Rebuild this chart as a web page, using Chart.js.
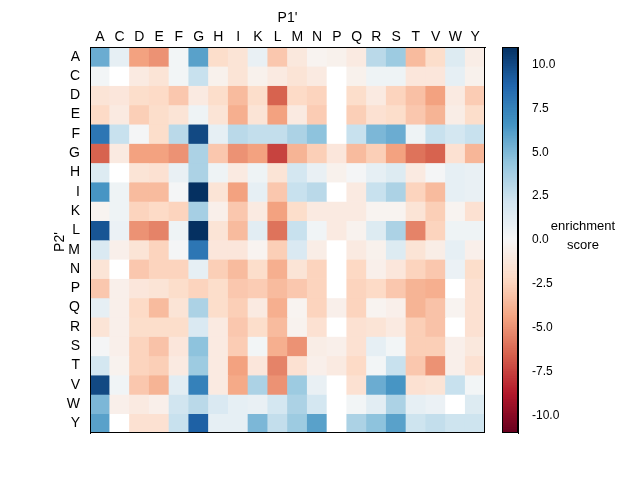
<!DOCTYPE html>
<html><head><meta charset="utf-8">
<script src="https://cdn.jsdelivr.net/npm/chart.js@4"></script>
<style>body{margin:0;background:#fff}#w{position:relative;width:640px;height:480px}canvas{position:absolute;top:0}</style>
</head><body><div id="w"><canvas id="c" width="640" height="480" style="left:0;width:640px;height:480px"></canvas><canvas id="cb" width="150" height="480" style="left:490px;width:150px;height:480px"></canvas></div>
<script>
const colLabels=["A","C","D","E","F","G","H","I","K","L","M","N","P","Q","R","S","T","V","W","Y"];
const rowLabels=["A","C","D","E","F","G","H","I","K","L","M","N","P","Q","R","S","T","V","W","Y"];
const cbTicks=[-10,-7.5,-5,-2.5,0,2.5,5,7.5,10];
const vmin=-11, vmax=11;
const rowA=[5.5,1,-4.5,-5,0.3,6,-2,-1.5,0.8,-3,-1.2,-0.3,-0.5,-1,3,4,-3.5,-2,1.5,-0.8];
const rowC=[0.3,0,-1,-1.5,0.3,2.5,-0.5,-1.5,-0.5,-1,-1.5,-1,0,-0.5,0.5,0.5,-1.3,-1.3,1,-0.5];
const rowD=[-1.5,-1.3,-2,-2.2,-3,-1,-2,-3.5,-2,-6.5,-2.2,-2.5,0,-2,-1,-2.5,-3.3,-4.5,-1,-2.8];
const rowE=[-2.2,-1,-2.7,-2,-1.5,0.5,-1.5,-4,-1.5,-4.5,-1,-2.8,0,-2.7,-1.7,-2,-3,-3.8,-0.8,-2];
const rowF=[8,2.5,0.2,-2,3,10,1,3,2.7,2.7,3.5,4.5,0,2.5,5,5.5,0.5,2.5,2,2.5];
const rowG=[-6.5,-1,-4.5,-4.5,-5,3.5,-3,-5,-4.5,-7.5,-3.8,-2.7,-1.3,-3.5,-2.7,-4.5,-6,-6.5,-1.7,-3.7];
const rowH=[1.5,0,-1.5,-1.7,0.8,3.5,0.5,-1,0.5,-1.5,2,0.8,-0.5,0.2,1,1.5,-1,0.2,1,0.8];
const rowI=[6.5,0.5,-3.5,-3.5,0.2,11,-1.5,-4.5,1,-3,2.5,3,0,-1,2.5,3.5,-2.5,-3.5,1,0.8];
const rowK=[-0.3,0.5,-2.5,-2.2,-2.5,3.7,-0.6,-3,-1,-4.5,-2,-1,-1,-1,-0.3,-0.3,-1.5,-2.7,-0.3,-1.7];
const rowL=[9.5,0.7,-5,-5.5,0.5,11,-1.5,-3.5,1.2,-6,2.5,0.4,-1,-0.4,1.5,3.5,-5.5,-2.5,0.5,0.5];
const rowM=[1.7,-0.6,-1.5,-2.5,0.2,8,-1.3,-1.3,-0.3,-2.7,1.7,-0.8,0,-1,-0.5,1.5,-1.5,-0.8,1,-0.6];
const rowN=[-1.5,0,-3,-2.5,-2.5,1,-2.7,-3.5,-2,-4,-1.5,-2.5,0,-2.3,-0.6,-1.3,-2.5,-3,0.7,-2];
const rowP=[-3,-0.6,-1.3,-1.5,-2,-2.5,-2,-3,-2.8,-3.5,-3,-2.5,0,-2.5,-2.2,-3,-3.8,-4,0,-1.7];
const rowQ=[1,-0.6,-2.2,-3.5,-1.5,3.5,-2,-2.7,-1,-4,-0.3,-2.5,-0.6,-2.5,-0.3,-0.6,-3.8,-3.2,-0.3,-1.7];
const rowR=[-1.5,-0.6,-2,-2,-2,1.7,-1,-3,-2,-3.5,-0.4,-1.7,0,-1.7,-1.5,-1,-2.7,-3.2,0,-1.7];
const rowS=[0.2,-0.6,-2.5,-3.2,-1.3,4.5,-1,-2.8,0.3,-4,-5,-0.8,-0.6,-1.7,1,0.3,-2.7,-2.7,-0.6,-1.2];
const rowT=[2,-0.4,-2.5,-2.7,-1,4,-1,-4.5,-1.3,-5.5,-1.7,-0.6,-1,-2.2,0.3,2.5,-3,-5,-0.6,-1.7];
const rowV=[10,0.4,-3,-3.8,1.2,7.5,-1,-4.2,3.5,-5,4,0.8,0,-1.7,5.5,6.5,-1.7,-1.5,2.5,0.3];
const rowW=[5,-0.6,-1,-0.6,2.2,3,1.7,1,0.8,2,3.5,2,0,0.3,1.2,3.5,1,0.7,0,1.5];
const rowY=[6,0,-1.7,-1.7,2.5,9,1,1,5,2.7,4,6,0,3.5,4.5,6,2.3,2.7,2.3,2.3];
const matrix=[rowA,rowC,rowD,rowE,rowF,rowG,rowH,rowI,rowK,rowL,rowM,rowN,rowP,rowQ,rowR,rowS,rowT,rowV,rowW,rowY];

const stops=["#67001f","#b2182b","#d6604d","#f4a582","#fddbc7","#f7f7f7","#d1e5f0","#92c5de","#4393c3","#2166ac","#053061"].map(h=>[1,3,5].map(i=>parseInt(h.substr(i,2),16)));
function cmap(v){if(v===0)return '#ffffff';let t=(v-vmin)/(vmax-vmin);t=Math.max(0,Math.min(1,t))*10;const i=Math.min(9,Math.floor(t)),f=t-i;const a=stops[i],b=stops[i+1];return `rgb(${a.map((x,k)=>Math.round(x+(b[k]-x)*f)).join(',')})`;}
Chart.defaults.font.family="'Liberation Sans', Arial, sans-serif";
Chart.defaults.color="#000";
const frame={id:'frame',afterDraw(ch){const a=ch.chartArea,c=ch.ctx;c.save();c.strokeStyle='#000';c.lineWidth=1;c.strokeRect(Math.round(a.left)+0.5,Math.round(a.top)+0.5,Math.round(a.right-a.left)-1,Math.round(a.bottom-a.top)-1);c.restore();}};
const titles={id:'titles',afterDraw(ch){const c=ch.ctx;c.save();c.font="14px 'Liberation Sans', Arial";c.fillStyle='#000';c.textAlign='center';c.textBaseline='middle';c.fillText("P1'",(ch.chartArea.left+ch.chartArea.right)/2,18);c.translate(60,242);c.rotate(-Math.PI/2);c.fillText("P2'",0,0);c.restore();}};
const datasets=matrix.map((row,r)=>({data:row.map((v,c)=>({x:colLabels[c],y:[r-0.5,r+0.5],v})),backgroundColor:row.map(cmap),barPercentage:1,categoryPercentage:1,grouped:false,borderWidth:0,borderSkipped:false}));
new Chart(document.getElementById('c'),{type:'bar',data:{labels:colLabels,datasets},
options:{responsive:false,animation:false,layout:{padding:{left:0,right:155,top:0,bottom:47}},
plugins:{legend:{display:false},tooltip:{enabled:false}},
parsing:{xAxisKey:'x',yAxisKey:'y'},
scales:{x:{type:'category',position:'top',offset:true,grid:{display:false},border:{color:'#000'},ticks:{font:{size:14},padding:-7},afterFit(s){s.height=47;}},
y:{type:'linear',min:-0.5,max:19.5,reverse:true,grid:{display:false},border:{color:'#000'},afterBuildTicks(s){s.ticks=rowLabels.map((l,i)=>({value:i}));},ticks:{font:{size:14},autoSkip:false,padding:2,callback:(v)=>rowLabels[v]},afterFit(s){s.width=90;}}}},plugins:[frame,titles]});
const cbSteps=[];for(let i=0;i<220;i++)cbSteps.push(vmin+(vmax-vmin)*i/220);
new Chart(document.getElementById('cb'),{type:'bar',data:{labels:['c'],datasets:cbSteps.map(s=>({data:[[s,s+(vmax-vmin)/220+0.01]],backgroundColor:cmap(s+0.05),barPercentage:1,categoryPercentage:1,grouped:false,borderWidth:0}))},
options:{responsive:false,animation:false,layout:{padding:{left:12,top:47,bottom:47,right:0}},plugins:{legend:{display:false},tooltip:{enabled:false}},
scales:{x:{display:false},y:{position:'right',min:vmin,max:vmax,grid:{display:false,drawTicks:true},border:{color:'#000'},afterBuildTicks(s){s.ticks=cbTicks.map(v=>({value:v}));},ticks:{font:{size:12},padding:6,callback:v=>v.toFixed(1)},afterFit(s){s.width=122;}}}},
plugins:[frame,{id:'lbl',afterDraw(ch){const c=ch.ctx;c.save();c.font="13px 'Liberation Sans', Arial";c.fillStyle='#000';c.textAlign='center';c.textBaseline='middle';c.fillText('enrichment',93,226);c.fillText('score',93,245);c.restore();}}]});
</script></body></html>
